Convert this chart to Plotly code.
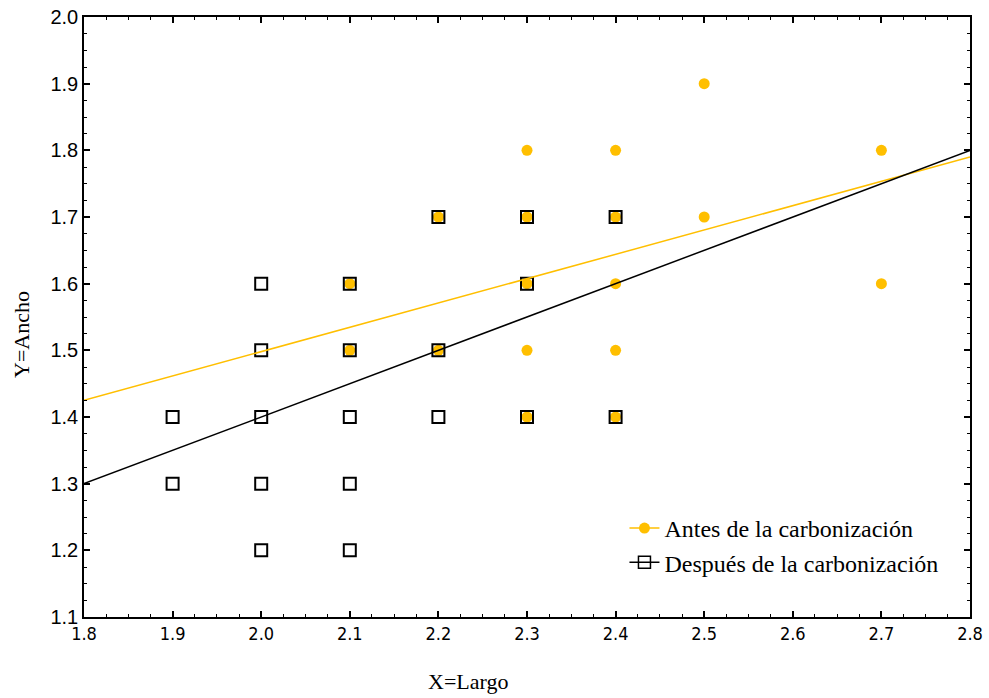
import plotly.graph_objects as go

# Antes de la carbonización (filled orange circles)
antes_x = [2.1, 2.1, 2.2, 2.2, 2.3, 2.3, 2.3, 2.3, 2.3, 2.4, 2.4, 2.4, 2.4, 2.4, 2.5, 2.5, 2.7, 2.7]
antes_y = [1.6, 1.5, 1.7, 1.5, 1.8, 1.7, 1.6, 1.5, 1.4, 1.8, 1.7, 1.6, 1.5, 1.4, 1.9, 1.7, 1.8, 1.6]

# Después de la carbonización (open black squares)
despues_x = [1.9, 1.9, 2.0, 2.0, 2.0, 2.0, 2.0, 2.1, 2.1, 2.1, 2.1, 2.1, 2.2, 2.2, 2.2, 2.3, 2.3, 2.3, 2.4, 2.4]
despues_y = [1.4, 1.3, 1.6, 1.5, 1.4, 1.3, 1.2, 1.6, 1.5, 1.4, 1.3, 1.2, 1.7, 1.5, 1.4, 1.7, 1.6, 1.4, 1.7, 1.4]

# Fitted regression lines
fit_x = [1.8, 2.8]
antes_fit_y = [1.425, 1.79]
despues_fit_y = [1.30, 1.80]

x_ticks = [1.8, 1.9, 2.0, 2.1, 2.2, 2.3, 2.4, 2.5, 2.6, 2.7, 2.8]
y_ticks = [1.1, 1.2, 1.3, 1.4, 1.5, 1.6, 1.7, 1.8, 1.9, 2.0]

ORANGE = "#FFBF00"
SERIF = "Liberation Serif, Times New Roman, serif"
SANS = "Liberation Sans, Arial, sans-serif"
NARROW = "Liberation Sans Narrow, Arial Narrow, DejaVu Sans Condensed, Liberation Sans, Arial, sans-serif"

fig = go.Figure()

fig.add_trace(go.Scatter(
    x=antes_x, y=antes_y, mode="markers", showlegend=False,
    marker=dict(symbol="circle", size=11, color=ORANGE, line=dict(width=0)),
))
fig.add_trace(go.Scatter(
    x=despues_x, y=despues_y, mode="markers", showlegend=False,
    marker=dict(symbol="square-open", size=12, color="black", line=dict(width=2)),
))
fig.add_trace(go.Scatter(
    x=fit_x, y=antes_fit_y, mode="lines", showlegend=False,
    line=dict(color=ORANGE, width=1.5),
))
fig.add_trace(go.Scatter(
    x=fit_x, y=despues_fit_y, mode="lines", showlegend=False,
    line=dict(color="black", width=1.5),
))
# legend entries
fig.add_trace(go.Scatter(
    x=[None], y=[None], mode="lines+markers", name="Antes de la carbonización",
    line=dict(color=ORANGE, width=1.5),
    marker=dict(symbol="circle", size=11, color=ORANGE),
))
fig.add_trace(go.Scatter(
    x=[None], y=[None], mode="lines+markers", name="Después de la carbonización",
    line=dict(color="black", width=1.5),
    marker=dict(symbol="square-open", size=12, color="black", line=dict(width=1.5)),
))

axis_common = dict(
    showline=True, linecolor="black", linewidth=1.5, mirror="ticks",
    ticks="inside", ticklen=6, tickwidth=1.5, tickcolor="black",
    showgrid=False, zeroline=False, automargin=False, ticklabeloverflow="allow",
    minor=dict(ticks="inside", ticklen=3, tickwidth=1, tickcolor="black", dtick=0.025, showgrid=False),
)

fig.update_layout(
    width=989, height=698,
    margin=dict(l=84, r=19, t=17, b=81),
    paper_bgcolor="white", plot_bgcolor="white",
    xaxis=dict(
        range=[1.8, 2.8], tickvals=x_ticks, ticktext=[f"{v:.1f}" for v in x_ticks],
        tickfont=dict(family=NARROW, size=18, color="black"),
        **axis_common,
    ),
    yaxis=dict(
        range=[1.1, 2.0], tickvals=y_ticks, ticktext=[f"{v:.1f}" for v in y_ticks],
        tickfont=dict(family=SANS, size=20, color="black"),
        **axis_common,
    ),
    legend=dict(
        x=0.610, y=0.185, xanchor="left", yanchor="top",
        bgcolor="rgba(0,0,0,0)", borderwidth=0,
        font=dict(family=SERIF, size=24, color="black"),
        tracegroupgap=0, itemwidth=30,
    ),
    annotations=[
        dict(text="X=Largo", xref="paper", yref="paper", x=(468 - 84) / 886, y=-(681 - 617) / 600,
             xanchor="center", yanchor="middle", showarrow=False,
             font=dict(family=SERIF, size=22, color="black")),
        dict(text="Y=Ancho", xref="paper", yref="paper", x=-(84 - 21) / 886, y=(617 - 335) / 600,
             xanchor="center", yanchor="middle", showarrow=False, textangle=-90,
             font=dict(family=SERIF, size=22, color="black")),
    ],
)

# remove the default page margin so the figure fills the window exactly
fig.write_html(
    "out.html",
    config={"displayModeBar": False},
    post_script="document.body.style.margin='0';document.body.style.overflow='hidden';",
)
